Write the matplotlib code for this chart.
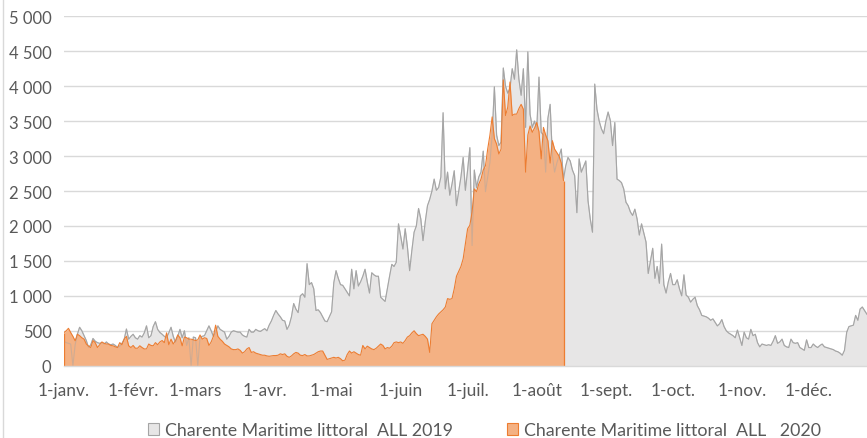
import numpy as np
import pandas as pd
import matplotlib
matplotlib.use("Agg")
import matplotlib.pyplot as plt
from matplotlib.ticker import FuncFormatter, MultipleLocator
from matplotlib.patches import Patch
from matplotlib.lines import Line2D
import matplotlib.dates as mdates

# ---------------- data ----------------
month_labels = ["1-janv.", "1-févr.", "1-mars", "1-avr.", "1-mai", "1-juin",
                "1-juil.", "1-août", "1-sept.", "1-oct.", "1-nov.", "1-déc."]
label_2019 = "Charente Maritime littoral  ALL 2019"
label_2020 = "Charente Maritime littoral  ALL   2020"

values_2019 = [
    350, 330, 320, 310, 0, 300, 450, 550, 500, 430,
    360, 260, 300, 390, 350, 330, 320, 330, 310, 340,
    310, 300, 310, 290, 260, 280, 320, 380, 525, 380,
    420, 450, 400, 380, 430, 410, 470, 570, 400, 430,
    560, 630, 520, 476, 450, 420, 400, 470, 550, 420,
    335, 420, 520, 400, 500, 290, 400, 0, 410, 400,
    0, 410, 420, 430, 500, 570, 500, 420, 480, 570,
    520, 500, 480, 380, 420, 480, 500, 490, 480, 480,
    440, 420, 410, 520, 480, 480, 520, 500, 490, 510,
    530, 500, 580, 640, 720, 790, 740, 700, 650, 640,
    520, 580, 700, 890, 810, 760, 1000, 1030, 980, 1460,
    1160, 1190, 1100, 790, 800, 760, 700, 640, 630, 700,
    770, 1190, 1360, 1250, 1160, 1150, 1100, 1050, 1000, 1380,
    1100, 1360, 1140, 1200, 1280, 1380, 1200, 1040, 1330, 1300,
    1280, 1280, 980, 950, 920, 1100, 1280, 1450, 1420, 1480,
    2030, 1850, 1670, 1960, 1700, 1360, 1650, 1910, 2000, 2250,
    2100, 1790, 2060, 2290, 2380, 2500, 2670, 2510, 2550, 2700,
    3620, 2530, 2770, 2440, 2600, 2790, 2290, 2500, 2700, 2980,
    2510, 2800, 3120, 1720, 2800, 2550, 2700, 2770, 3070, 2490,
    2700, 2910, 3300, 3990, 3300, 3150, 3200, 4260, 4000, 3900,
    3970, 4250, 4100, 4520, 4100, 3870, 4250, 3410, 4490, 3600,
    3410, 3500, 3380, 4130, 3340, 3300, 2770, 3540, 3740, 3010,
    2770, 2900, 3000, 3100, 2670, 2860, 2980, 2930, 2800, 2720,
    2190, 2960, 2770, 2850, 2930, 2360, 2100, 1910, 4030, 3670,
    3500, 3390, 3320, 3500, 3630, 3510, 3150, 3480, 2670, 2650,
    2620, 2530, 2340, 2290, 2200, 2150, 2240, 2100, 1870, 2030,
    1900, 1770, 1320, 1500, 1680, 1250, 1420, 1180, 1740, 1160,
    1040, 1200, 1320, 1160, 1160, 1230, 1100, 1000, 1300, 1010,
    980, 910, 950, 980, 860, 800, 720, 710, 700, 680,
    650, 670, 620, 570, 600, 660, 560, 500, 470, 450,
    430, 400, 510, 400, 290, 480, 400, 380, 520, 430,
    450, 330, 270, 310, 300, 290, 300, 290, 350, 430,
    320, 340, 380, 290, 270, 260, 380, 330, 320, 330,
    260, 240, 220, 370, 260, 260, 310, 280, 260, 290,
    310, 270, 260, 250, 240, 230, 210, 200, 180, 150,
    220, 480, 560, 570, 580, 720, 650, 810, 840, 790,
    740, 700, 720, 760, 700,
]

values_2020 = [
    475, 500, 535, 475, 420, 357, 450, 430, 400, 380,
    310, 280, 260, 360, 330, 260, 300, 340, 320, 310,
    310, 290, 285, 270, 260, 330, 300, 380, 420, 285,
    260, 290, 250, 250, 285, 260, 240, 240, 310, 290,
    285, 330, 300, 340, 360, 330, 470, 300, 380, 310,
    360, 440, 400, 285, 410, 400, 380, 380, 370, 360,
    370, 440, 380, 400, 390, 290, 340, 420, 580, 420,
    380, 350, 310, 290, 270, 240, 230, 230, 240, 220,
    180, 200, 240, 260, 190, 200, 180, 170, 160, 150,
    150, 140, 135, 140, 145, 145, 150, 170, 160, 170,
    135, 120, 140, 170, 190, 180, 150, 145, 160, 140,
    140, 150, 160, 180, 200, 210, 210, 150, 90, 100,
    110, 120, 110, 120, 100, 70, 80, 160, 210, 180,
    200, 180, 160, 150, 290, 240, 280, 260, 240, 230,
    250, 280, 310, 290, 240, 260, 250, 280, 330, 340,
    330, 340, 320, 360, 410, 430, 470, 500, 460, 430,
    440, 450, 420, 380, 190, 600, 650, 700, 740, 770,
    800, 840, 960, 950, 960, 1100, 1280, 1350, 1420, 1530,
    1750, 1960, 2010, 2200, 2530, 2490, 2600, 2670, 2800, 2860,
    3100, 3300, 3560, 3250, 3170, 3030, 3100, 4090, 3580, 3700,
    4060, 3580, 3600, 3600, 3680, 3740, 3670, 2770, 3300, 3430,
    3340, 3400, 3480, 3350, 2960, 3410, 3300, 3220, 2900, 3220,
    3100, 3050, 3000, 2900, 2650,
]

# ---------------- plot ----------------
plt.rcParams["font.family"] = ["Lato", "DejaVu Sans"]
TEXT = "#595959"
GREY_FILL, GREY_LINE = "#E7E6E6", "#A5A5A5"
ORANGE_FILL, ORANGE_LINE = "#F4B183", "#ED7D31"

dates = pd.date_range("2019-01-01", periods=len(values_2019), freq="D")
dates_2020 = dates[:len(values_2020)]

W, H = 867, 439
fig = plt.figure(figsize=(W / 100, H / 100), dpi=100)
ax = fig.add_axes([64 / W, 72.3 / H, 811.7 / W, 349.4 / H])

ax.fill_between(dates, values_2019, 0, color=GREY_FILL, lw=0, zorder=2)
ax.plot(dates, values_2019, color=GREY_LINE, lw=0.8, zorder=3)

ax.fill_between(dates_2020, values_2020, 0, color=ORANGE_FILL, lw=0, zorder=4)
# 2019 line faintly visible through the 2020 area
ax.plot(dates, values_2019, color=GREY_LINE, lw=0.8, alpha=0.45, zorder=4.5)
ax.plot(dates_2020, values_2020, color=ORANGE_LINE, lw=0.8, zorder=5)
ax.vlines([dates_2020[0], dates_2020[-1]], 0, [values_2020[0], values_2020[-1]],
          color=ORANGE_LINE, lw=0.9, zorder=5)

ax.set_xlim(dates[0], dates[-1])
ax.set_ylim(0, 5000)
ax.yaxis.set_major_locator(MultipleLocator(500))
ax.yaxis.set_major_formatter(FuncFormatter(lambda v, p: f"{int(v):,}".replace(",", " ")))

ax.xaxis.set_major_locator(mdates.MonthLocator())
ax.xaxis.set_major_formatter(FuncFormatter(lambda v, p: month_labels[mdates.num2date(v).month - 1]))

ax.yaxis.grid(True, color="#D9D9D9", lw=1)
ax.set_axisbelow(True)
for s in ["left", "right", "top"]:
    ax.spines[s].set_visible(False)
ax.spines["bottom"].set_color("#D9D9D9")
ax.spines["bottom"].set_linewidth(1)
ax.spines["bottom"].set_zorder(6)

ax.tick_params(axis="both", length=0, colors=TEXT)
ax.tick_params(axis="x", pad=12, labelsize=12.5)
ax.tick_params(axis="y", pad=9, labelsize=12)

handles = [Patch(facecolor=GREY_FILL, edgecolor=GREY_LINE, lw=0.8),
           Patch(facecolor=ORANGE_FILL, edgecolor=ORANGE_LINE, lw=0.8)]
leg = fig.legend(handles, [label_2019, label_2020], loc="center",
                 bbox_to_anchor=(484.5 / W, 8 / H), ncol=2, frameon=False,
                 fontsize=12.8, handlelength=0.65, handleheight=0.65,
                 handletextpad=0.35, columnspacing=3.0, labelcolor=TEXT,
                 borderpad=0, borderaxespad=0)

fig.add_artist(Line2D([3 / W, 3 / W], [0, 1], transform=fig.transFigure,
                      color="#D9D9D9", lw=1))

fig.savefig("out.png", dpi=100)
